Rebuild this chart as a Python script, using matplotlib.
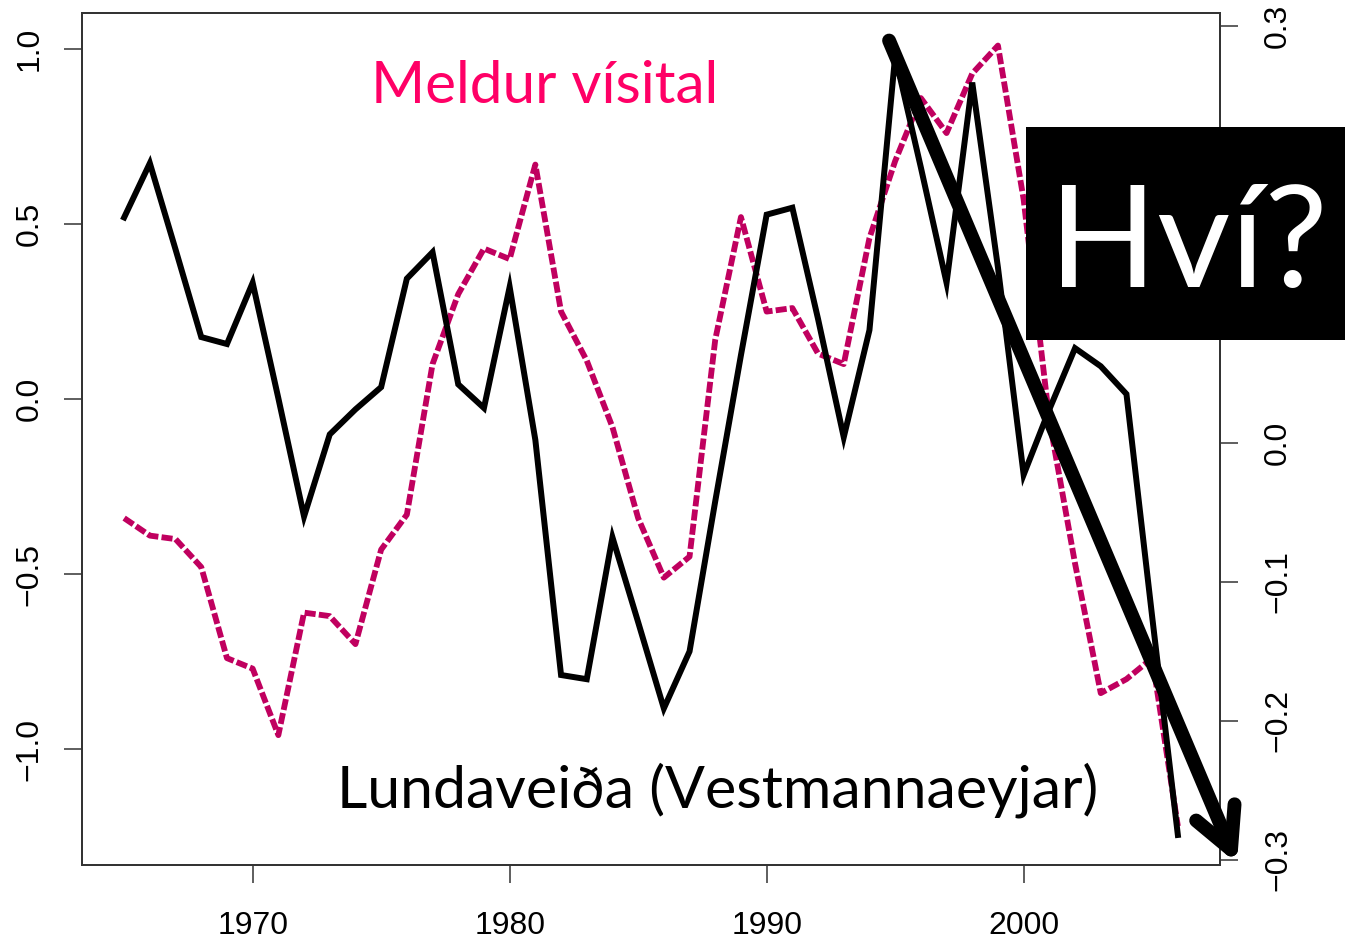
import matplotlib.pyplot as plt
from matplotlib.patches import Rectangle, FancyArrowPatch

# --- data ---
years = list(range(1965, 2007))

# sandeel index (left axis), dashed magenta
meldur = [-0.34, -0.39, -0.40, -0.48, -0.74, -0.77, -0.96, -0.61, -0.62, -0.70,
          -0.43, -0.33, 0.10, 0.30, 0.43, 0.40, 0.67, 0.25, 0.11, -0.08,
          -0.34, -0.51, -0.45, 0.17, 0.52, 0.25, 0.26, 0.13, 0.10, 0.46,
          0.68, 0.86, 0.76, 0.93, 1.01, 0.57, -0.06, -0.47, -0.84, -0.80,
          -0.74, -1.22]

# puffin catch (right axis), solid black
lundi = [0.162, 0.201, 0.139, 0.076, 0.071, 0.115, 0.032, -0.053, 0.006, 0.024,
         0.040, 0.118, 0.137, 0.042, 0.025, 0.112, 0.002, -0.167, -0.170, -0.068,
         -0.129, -0.191, -0.150, -0.042, 0.063, 0.164, 0.169, 0.089, 0.004, 0.081,
         0.278, 0.198, 0.115, 0.259, 0.126, -0.023, 0.024, 0.068, 0.055, 0.035,
         -0.125, -0.282]

x_ticks = [1970, 1980, 1990, 2000]
left_ticks = [-1.0, -0.5, 0.0, 0.5, 1.0]
right_ticks = [-0.3, -0.2, -0.1, 0.0, 0.1, 0.2, 0.3]
# 0.1 and 0.2 sit behind the "Hví?" box in the original
right_labels = ['\u22120.3', '\u22120.2', '\u22120.1', '0.0', '', '', '0.3']

PINK_LINE = '#c0005f'
PINK_TEXT = '#ff0066'
TICK_FONT = ['Liberation Sans', 'DejaVu Sans']
LABEL_FONT = ['Lato', 'DejaVu Sans']

W, H = 1345, 940
fig = plt.figure(figsize=(W / 100, H / 100), dpi=100)
ax = fig.add_axes([82 / W, 1 - 865 / H, (1220 - 82) / W, (865 - 13) / H])
ax2 = ax.twinx()

ax.plot(years, meldur, color=PINK_LINE, lw=4.2, dashes=(1.9, 0.55),
        dash_capstyle='butt', dash_joinstyle='round')
ax2.plot(years, lundi, color='black', lw=4.3, solid_joinstyle='miter')

ax.set_xlim(1963.36, 2007.64)
ax.set_ylim(-1.331, 1.103)
ax2.set_ylim(-0.3036, 0.309)

ax.set_xticks(x_ticks)
ax.set_yticks(left_ticks)
ax2.set_yticks(right_ticks)
ax.set_yticklabels([f'{v:.1f}'.replace('-', '\u2212') for v in left_ticks],
                   rotation=90, va='center', family=TICK_FONT, fontsize=23)
ax2.set_yticklabels(right_labels, rotation=90, va='center',
                    family=TICK_FONT, fontsize=23)
ax.set_xticklabels([str(y) for y in x_ticks], family=TICK_FONT, fontsize=23)

for a in (ax, ax2):
    for s in a.spines.values():
        s.set_color('#333333')
        s.set_linewidth(1.3)
ax.tick_params(axis='both', length=13, width=1.1, color='#333333')
ax.tick_params(axis='y', pad=14)
ax.tick_params(axis='x', pad=20)
ax2.tick_params(axis='y', length=13, width=1.1, color='#333333', pad=18)

# annotations
fig.text(545 / W, 1 - 103 / H, 'Meldur vísital', color=PINK_TEXT,
         family=LABEL_FONT, fontsize=42, ha='center', va='baseline')
fig.text(718 / W, 1 - 808 / H, 'Lundaveiða (Vestmannaeyjar)', color='black',
         family=LABEL_FONT, fontsize=42.5, ha='center', va='baseline')

box = Rectangle((1026 / W, 1 - 340 / H), (W - 1026) / W, (340 - 127) / H,
                transform=fig.transFigure, facecolor='black', edgecolor='none',
                zorder=10)
fig.add_artist(box)
fig.text(1188 / W, 1 - 287 / H, 'Hví?', color='white', family=LABEL_FONT,
         fontsize=102, ha='center', va='baseline', zorder=11)

arrow = FancyArrowPatch((888 / W, 1 - 38 / H), (1238 / W, 1 - 866 / H),
                        transform=fig.transFigure,
                        arrowstyle='->,head_length=29,head_width=15',
                        mutation_scale=1, lw=10, color='black', zorder=12)
fig.add_artist(arrow)

fig.savefig('out.png', dpi=100)
